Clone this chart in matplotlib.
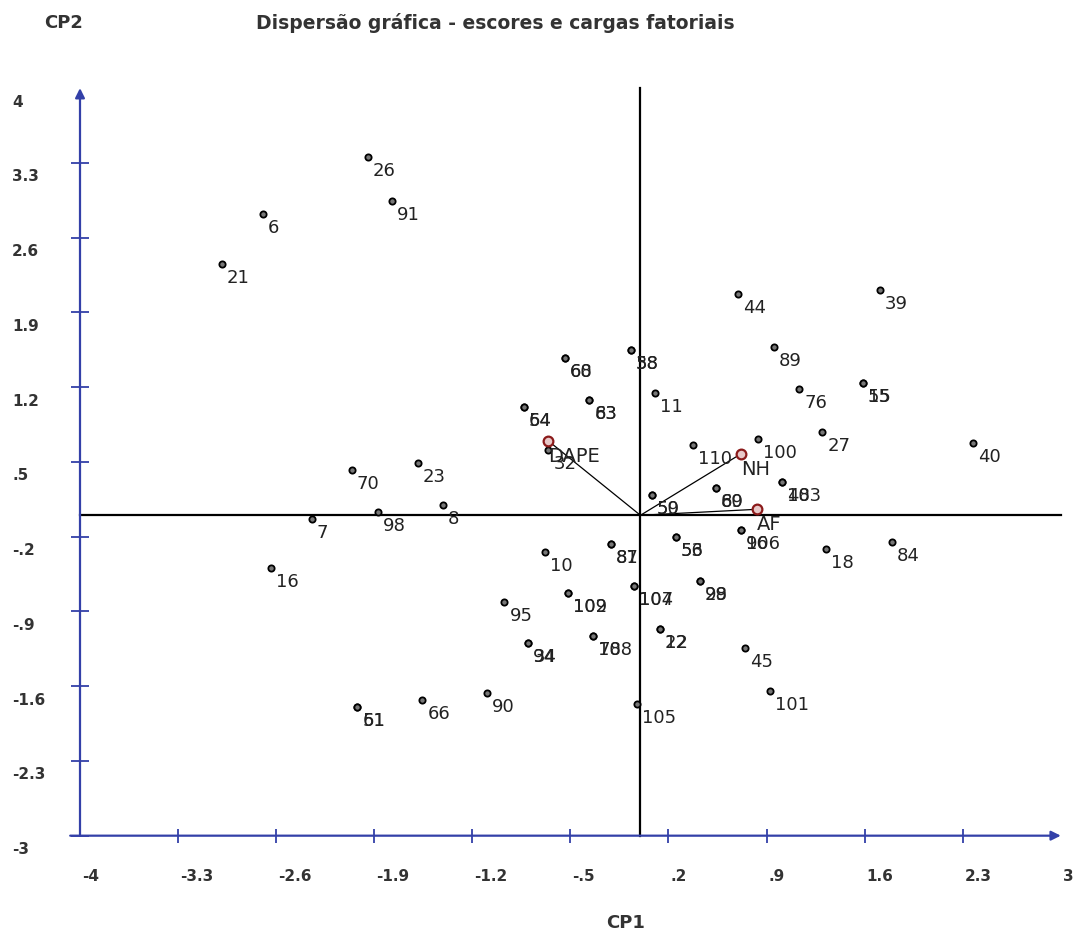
import matplotlib
matplotlib.use("Agg")
import matplotlib.pyplot as plt

# ---------------- data ----------------
obs_ids = ["26", "91", "6", "21", "44", "39", "7", "16", "70", "23", "98", "8",
           "60", "68", "58", "38", "11", "83", "63", "64", "54", "32", "110",
           "50", "59", "10", "87", "81", "53", "56", "102", "109", "95", "107", "104",
           "99", "28", "89", "76", "55", "15", "27", "40", "100", "69", "80",
           "48", "103", "96", "106", "18", "84", "51", "61", "66", "90", "94", "34",
           "108", "78", "22", "12", "105", "45", "101"]
obs_cp1 = [-1.947, -1.771, -2.696, -2.989, 0.694, 1.710, -2.346, -2.639, -2.059, -1.590, -1.875, -1.411,
           -0.538, -0.538, -0.069, -0.069, 0.104, -0.365, -0.365, -0.831, -0.831, -0.657, 0.373,
           0.081, 0.081, -0.681, -0.212, -0.212, 0.252, 0.252, -0.515, -0.515, -0.971, -0.046, -0.046,
           0.425, 0.425, 0.954, 1.132, 1.587, 1.587, 1.298, 2.376, 0.837, 0.537, 0.537,
           1.008, 1.008, 0.718, 0.718, 1.325, 1.794, -2.021, -2.021, -1.557, -1.093, -0.800, -0.800,
           -0.336, -0.336, 0.140, 0.140, -0.022, 0.747, 0.925]
obs_cp2 = [3.352, 2.943, 2.818, 2.350, 2.069, 2.110, -0.032, -0.496, 0.424, 0.493, 0.034, 0.096,
           1.470, 1.470, 1.548, 1.548, 1.142, 1.080, 1.080, 1.017, 1.017, 0.611, 0.658,
           0.190, 0.190, -0.341, -0.269, -0.269, -0.206, -0.206, -0.730, -0.730, -0.809, -0.662, -0.662,
           -0.615, -0.615, 1.579, 1.180, 1.236, 1.236, 0.783, 0.674, 0.712, 0.253, 0.253,
           0.315, 0.315, -0.138, -0.138, -0.318, -0.247, -1.792, -1.792, -1.729, -1.661, -1.193, -1.193,
           -1.130, -1.130, -1.065, -1.065, -1.770, -1.245, -1.642]

var_names = ["DAPE", "NH", "AF"]
var_cp1 = [-0.657, 0.716, 0.830]
var_cp2 = [0.696, 0.574, 0.056]

x_ticks = [-4, -3.3, -2.6, -1.9, -1.2, -0.5, 0.2, 0.9, 1.6, 2.3, 3]
x_tick_labels = ["-4", "-3.3", "-2.6", "-1.9", "-1.2", "-.5", ".2", ".9", "1.6", "2.3", "3"]
y_ticks = [-3, -2.3, -1.6, -0.9, -0.2, 0.5, 1.2, 1.9, 2.6, 3.3, 4]
y_tick_labels = ["-3", "-2.3", "-1.6", "-.9", "-.2", ".5", "1.2", "1.9", "2.6", "3.3", "4"]

title = "Dispersão gráfica - escores e cargas fatoriais"
xlabel = "CP1"
ylabel = "CP2"

# ---------------- figure ----------------
W, H = 1078, 935
fig = plt.figure(figsize=(W / 100, H / 100), dpi=100)
ax = fig.add_axes([0, 0, 1, 1])
ax.set_xlim(-4.571, 3.123)
ax.set_ylim(-3.930, 4.825)
ax.axis("off")

blue = "#3340a8"
txt = "#222222"
xmin, xmax = x_ticks[0], x_ticks[-1]
ymin, ymax = y_ticks[0], y_ticks[-1]

# reference (zero) lines
ax.plot([xmin, xmax], [0, 0], color="black", lw=1.6, zorder=1)
ax.plot([0, 0], [ymin, ymax], color="black", lw=1.6, zorder=1)

# blue axes with arrows
ax.annotate("", xy=(xmax, ymin), xytext=(xmin - 0.07, ymin),
            arrowprops=dict(arrowstyle="-|>", color=blue, lw=1.6, mutation_scale=14,
                            shrinkA=0, shrinkB=0), zorder=2)
ax.annotate("", xy=(xmin, ymax), xytext=(xmin, ymin),
            arrowprops=dict(arrowstyle="-|>", color=blue, lw=1.6, mutation_scale=14,
                            shrinkA=0, shrinkB=0), zorder=2)
ax.plot(x_ticks[1:-1], [ymin] * (len(x_ticks) - 2), ls="none", marker="|", ms=10,
        mew=1.3, color=blue, zorder=2)
ax.plot([xmin] * (len(y_ticks) - 1), y_ticks[:-1], ls="none", marker="_", ms=13,
        mew=1.3, color=blue, zorder=2)

for t, lab in zip(x_ticks, x_tick_labels):
    ax.annotate(lab, xy=(t, ymin), xytext=(2, -41), textcoords="offset pixels",
                ha="left", va="center", fontsize=11, fontweight="bold",
                color="#333333", family="DejaVu Sans")
for t, lab in zip(y_ticks, y_tick_labels):
    ax.annotate(lab, xy=(xmin, t), xytext=(-68, -14), textcoords="offset pixels",
                ha="left", va="center", fontsize=11, fontweight="bold",
                color="#333333", family="DejaVu Sans")

# loading vectors
for name, vx, vy in zip(var_names, var_cp1, var_cp2):
    ax.plot([0, vx], [0, vy], color="black", lw=0.9, zorder=3)
ax.plot(var_cp1, var_cp2, ls="none", marker="o", ms=7, mfc="#e8c8c8", mec="#8b1a1a",
        mew=1.6, zorder=5)
for name, vx, vy in zip(var_names, var_cp1, var_cp2):
    ax.annotate(name, xy=(vx, vy), xytext=(0, -6), textcoords="offset pixels",
                ha="left", va="top", fontsize=14, color=txt, family="DejaVu Sans", zorder=6)

# observation scores
ax.plot(obs_cp1, obs_cp2, ls="none", marker="o", ms=4.5, mfc="#777777", mec="black",
        mew=1.3, zorder=4)
for lab, ox, oy in zip(obs_ids, obs_cp1, obs_cp2):
    ax.annotate(lab, xy=(ox, oy), xytext=(5, -5), textcoords="offset pixels",
                ha="left", va="top", fontsize=13, color=txt, family="DejaVu Sans", zorder=4)

# titles
fig.text(44 / W, 1 - 23 / H, ylabel, ha="left", va="center", fontsize=13,
         fontweight="bold", color="#333333", family="DejaVu Sans")
fig.text(256 / W, 1 - 23 / H, title, ha="left", va="center", fontsize=13.5,
         fontweight="bold", color="#333333", family="DejaVu Sans")
fig.text(626 / W, 1 - 923 / H, xlabel, ha="center", va="center", fontsize=13,
         fontweight="bold", color="#333333", family="DejaVu Sans")

fig.savefig("out.png", dpi=100, facecolor="white")
